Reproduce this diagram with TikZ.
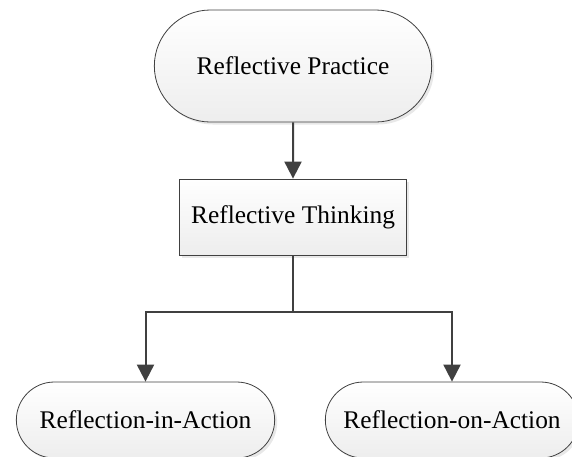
\documentclass[tikz,border=0pt]{standalone}
\usepackage{fontspec}
\setmainfont{Liberation Serif}
\usetikzlibrary{shapes.misc,arrows.meta,shadows,positioning}
\definecolor{lineGray}{HTML}{404040}
\tikzstyle{flowBox} = [
  draw=lineGray,
  line width=0.8pt,
  top color=white,
  bottom color=gray!14,
  drop shadow={shadow xshift=2.5pt, shadow yshift=-2.5pt, fill=gray!35},
  font=\fontsize{25.4}{30}\selectfont,
  align=center,
  ]
\tikzstyle{terminalBox} = [flowBox, rounded rectangle]
\tikzstyle{processBox} = [flowBox, rectangle]
\tikzstyle{flowLine} = [draw=lineGray, line width=2pt]
\tikzstyle{flowArrow} = [flowLine, -{Triangle[length=17pt,width=17pt]}]

\begin{document}
\begin{tikzpicture}[x=1pt, y=-1pt]
  \useasboundingbox (0,0) rectangle (572,456);
  \node[terminalBox, minimum width=284pt, minimum height=112pt] (practice) at (293,66) {
    Reflective Practice};
  \node[processBox, minimum width=227pt, minimum height=76pt] (thinking) at (293,217) {
    Reflective Thinking};
  \node[terminalBox, minimum width=265pt, minimum height=76pt] (inAction) at (145.5,420) {
    Reflection-in-Action};
  \node[terminalBox, minimum width=260pt, minimum height=76pt] (onAction) at (452,420) {
    Reflection-on-Action};
  \coordinate (split) at (293,312);
  \draw[flowArrow] (practice) -- (thinking);
  \draw[flowLine] (thinking.south) -- (split);
  \draw[flowArrow] (split) -| (inAction.north);
  \draw[flowArrow] (split) -| (onAction.north);
\end{tikzpicture}
\end{document}
